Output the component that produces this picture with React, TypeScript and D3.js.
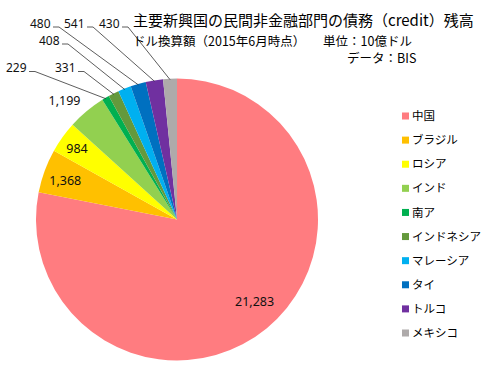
import React from "react";
import * as d3 from "d3";

const categories = ["中国", "ブラジル", "ロシア", "インド", "南ア", "インドネシア", "マレーシア", "タイ", "トルコ", "メキシコ"];
const values = [21283, 1368, 984, 1199, 229, 331, 408, 480, 541, 430];
const colors = ["#FF7C80", "#FFC000", "#FFFF00", "#92D050", "#00B050", "#64993C", "#00B0F0", "#0070C0", "#7030A0", "#AEAAAA"];
const titleLines = ["主要新興国の民間非金融部門の債務（credit）残高", "ドル換算額（2015年6月時点）", "単位：10億ドル", "データ：BIS"];

// label layout: inside/near labels by radius ratio + angle tweak; others with leader lines
const innerLabel: Record<number, [number, number]> = { 0: [0.8, -4], 1: [0.84, -0.8], 2: [0.87, -0.3], 3: [1.16, -3.6] };
const leaderAnchor: Record<number, [number, number]> = {
  4: [29, 71.5], 5: [78, 71.5], 6: [62, 44], 7: [53, 27], 8: [87, 27], 9: [122, 27],
};

const W = 493, H = 375;
const cx = 177, cy = 219.5, R = 141;
const fmt = d3.format(",");

export default function App() {
  const pie = d3.pie<number>().sort(null).value((d) => d).startAngle(0).endAngle(2 * Math.PI);
  const arcs = pie(values);
  const arc = d3.arc<d3.PieArcDatum<number>>().innerRadius(0).outerRadius(R);
  const polar = (a: number, r: number): [number, number] => [cx + r * Math.sin(a), cy - r * Math.cos(a)];
  const legendY = d3.scaleLinear().domain([0, categories.length - 1]).range([116, 333]);

  return (
    <svg width={W} height={H} style={{ position: "absolute", left: 0, top: 0, background: "#fff" }}>
      <g transform={`translate(${cx},${cy})`}>
        {arcs.map((a, i) => (
          <path key={i} d={arc(a) || ""} fill={colors[i]} />
        ))}
      </g>
      {arcs.map((a, i) => {
        const mid = (a.startAngle + a.endAngle) / 2;
        if (innerLabel[i]) {
          const [rr, da] = innerLabel[i];
          const [x, y] = polar(mid + (da * Math.PI) / 180, R * rr);
          return (
            <text key={i} x={x} y={y} dy="0.35em" textAnchor="middle" fontFamily="Noto Sans" fontSize={12.5} fill="#111">
              {fmt(values[i])}
            </text>
          );
        }
        const [ax, ay] = leaderAnchor[i];
        const [ex, ey] = polar(mid, R - 1);
        return (
          <g key={i}>
            <path d={`M${ax},${ay}L${ax + 6},${ay}L${ex},${ey}`} fill="none" stroke="#333" strokeWidth={0.8} />
            <text x={ax - 2.5} y={ay + 0.5} textAnchor="end" fontFamily="Noto Sans" fontSize={12} fill="#111">
              {fmt(values[i])}
            </text>
          </g>
        );
      })}
      <g fontFamily="'Noto Sans CJK JP'" fill="#000">
        <text x={133} y={26} fontSize={15}>{titleLines[0]}</text>
        <text x={133} y={46} fontSize={12.5}>{titleLines[1]}</text>
        <text x={323} y={46} fontSize={12.5}>{titleLines[2]}</text>
        <text x={347} y={63} fontSize={12.5}>{titleLines[3]}</text>
      </g>
      <g fontFamily="'Noto Sans CJK JP'" fontSize={11.5}>
        {categories.map((c, i) => (
          <g key={c} transform={`translate(402,${legendY(i)})`}>
            <rect x={0} y={-3.5} width={7} height={7} fill={colors[i]} />
            <text x={10} y={0} dy="0.36em" fill="#000">{c}</text>
          </g>
        ))}
      </g>
    </svg>
  );
}
